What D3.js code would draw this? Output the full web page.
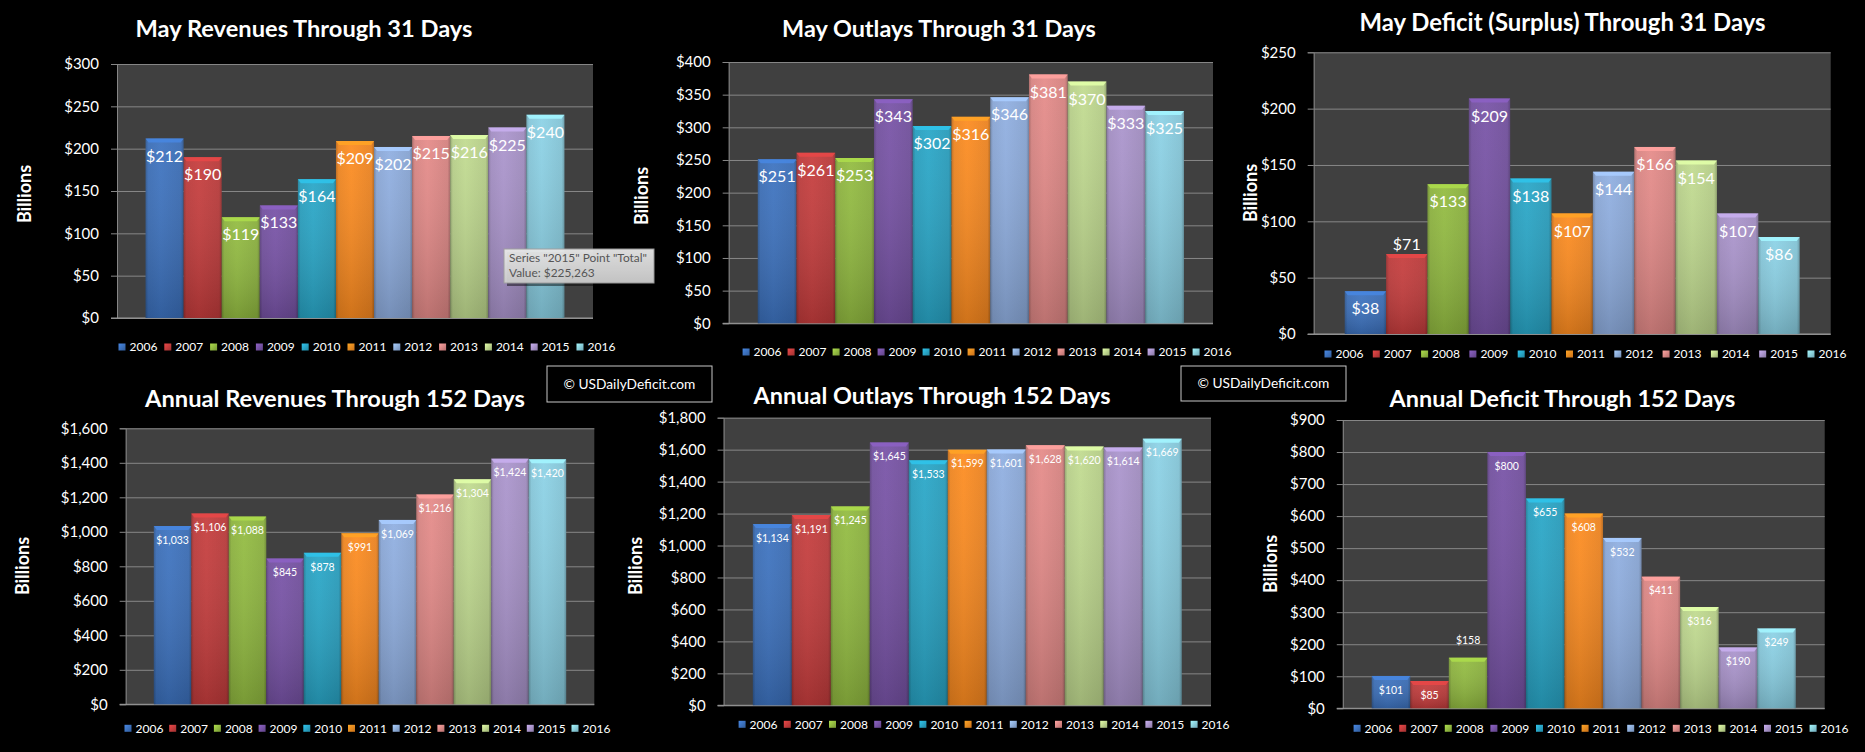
<!DOCTYPE html>
<html><head><meta charset="utf-8">
<script src="https://cdn.jsdelivr.net/npm/d3@7"></script>
<style>
html,body{margin:0;padding:0;background:#000;}
svg{display:block;}
text{font-family:Lato,"Open Sans",sans-serif;}
</style></head><body>
<svg id="chart" width="1865" height="752"></svg>
<script>
// ---------- data ----------
const years = ["2006","2007","2008","2009","2010","2011","2012","2013","2014","2015","2016"];
const seriesColors = ["#3A6EB8","#BE3A3A","#8DB43E","#7350A0","#27A0C0","#F2861F","#8AA8D8","#DB8583","#B9D28A","#A48FC4","#86C9DC"];

const mayRevenues   = [212,190,119,133,164,209,202,215,216,225,240];
const mayOutlays    = [251,261,253,343,302,316,346,381,370,333,325];
const mayDeficit    = [38,71,133,209,138,107,144,166,154,107,86];
const annualRevenues= [1033,1106,1088,845,878,991,1069,1216,1304,1424,1420];
const annualOutlays = [1134,1191,1245,1645,1533,1599,1601,1628,1620,1614,1669];
const annualDeficit = [101,85,158,800,655,608,532,411,316,190,249];

const mayRevenueTicks   = [0,50,100,150,200,250,300];
const mayOutlayTicks    = [0,50,100,150,200,250,300,350,400];
const mayDeficitTicks   = [0,50,100,150,200,250];
const annualRevenueTicks= [0,200,400,600,800,1000,1200,1400,1600];
const annualOutlayTicks = [0,200,400,600,800,1000,1200,1400,1600,1800];
const annualDeficitTicks= [0,100,200,300,400,500,600,700,800,900];

const titles = ["May Revenues Through 31 Days","May Outlays Through 31 Days","May Deficit (Surplus) Through 31 Days",
                "Annual Revenues Through 152 Days","Annual Outlays Through 152 Days","Annual Deficit Through 152 Days"];
const axisTitle = "Billions";
const watermark = "\u00A9 USDailyDeficit.com";
const tooltipLines = ['Series "2015" Point "Total"', 'Value: $225,263'];

// ---------- layout ----------
const panels = [
 {title:titles[0], values:mayRevenues, ticks:mayRevenueTicks, L:117, R:593, T:64, B:318, tx:304, ty:29, tw:337, bx:24.5, by:194, lx:118.5, ly:347, ls:45.8, fs:16, inOff:17.5, outOff:-9, outside:[]},
 {title:titles[1], values:mayOutlays, ticks:mayOutlayTicks, L:728.7, R:1213, T:62, B:323.3, tx:939, ty:29, tw:314, bx:641.7, by:196, lx:742.6, ly:352, ls:45, fs:16, inOff:17.5, outOff:-9, outside:[]},
 {title:titles[2], values:mayDeficit, ticks:mayDeficitTicks, L:1313.7, R:1830.7, T:52.3, B:334, tx:1562.5, ty:22.7, tw:406, bx:1251, by:193, lx:1324.5, ly:354, ls:48.3, fs:16, inOff:17.5, outOff:-9.5, outside:["2007"]},
 {title:titles[3], values:annualRevenues, ticks:annualRevenueTicks, L:125.7, R:594.3, T:428.3, B:704.3, tx:335, ty:398.7, tw:380, bx:23, by:566, lx:124.5, ly:728.3, ls:44.7, fs:10.5, inOff:14, outOff:-17.5, outside:[]},
 {title:titles[4], values:annualOutlays, ticks:annualOutlayTicks, L:723.6, R:1211, T:417.7, B:705.3, tx:932, ty:396, tw:357, bx:636, by:566, lx:738.6, ly:724.3, ls:45.2, fs:10.5, inOff:14, outOff:-17.5, outside:[]},
 {title:titles[5], values:annualDeficit, ticks:annualDeficitTicks, L:1342.8, R:1824.7, T:420, B:708.3, tx:1562.5, ty:398.7, tw:346, bx:1271, by:564, lx:1353.6, ly:728.3, ls:45.6, fs:10.5, inOff:14, outOff:-17.5, outside:["2008"]}
];

const svg = d3.select("#chart");
const defs = svg.append("defs");
const fmt = d3.format("$,");

function fitText(sel, target){
  const w = sel.node().getComputedTextLength();
  const fs = parseFloat(sel.attr("font-size"));
  sel.attr("font-size", (fs*target/w).toFixed(2));
}

// gradients
seriesColors.forEach((c,i)=>{
  const base = d3.color(c);
  const g = defs.append("linearGradient").attr("id","hg"+i).attr("x1",0).attr("x2",1).attr("y1",0).attr("y2",0);
  g.append("stop").attr("offset","0%").attr("stop-color",base.darker(0.7));
  g.append("stop").attr("offset","7%").attr("stop-color",base.darker(0.05));
  g.append("stop").attr("offset","40%").attr("stop-color",base.brighter(0.12));
  g.append("stop").attr("offset","93%").attr("stop-color",base.darker(0.1));
  g.append("stop").attr("offset","100%").attr("stop-color",base.darker(0.8));
  const lg = defs.append("linearGradient").attr("id","lg"+i).attr("x1",0).attr("x2",1).attr("y1",0).attr("y2",1);
  lg.append("stop").attr("offset","0%").attr("stop-color",base.brighter(0.6));
  lg.append("stop").attr("offset","100%").attr("stop-color",base.darker(0.5));
});
const vs = defs.append("linearGradient").attr("id","vshade").attr("x1",0).attr("x2",0).attr("y1",0).attr("y2",1);
vs.append("stop").attr("offset","0%").attr("stop-color","#fff").attr("stop-opacity",0.06);
vs.append("stop").attr("offset","100%").attr("stop-color","#000").attr("stop-opacity",0.18);
const tg = defs.append("linearGradient").attr("id","tipg").attr("x1",0).attr("x2",0).attr("y1",0).attr("y2",1);
tg.append("stop").attr("offset","0%").attr("stop-color","#e9e9e9");
tg.append("stop").attr("offset","100%").attr("stop-color","#cdcdcd");

panels.forEach(p=>{
  const g = svg.append("g");
  const x = d3.scaleBand().domain(years).range([p.L,p.R]).paddingInner(0).paddingOuter(0.75);
  const y = d3.scaleLinear().domain([0, d3.max(p.ticks)]).range([p.B,p.T]);

  g.append("rect").attr("x",p.L).attr("y",p.T).attr("width",p.R-p.L).attr("height",p.B-p.T).attr("fill","#404040");

  // gridlines
  const grid = g.append("g").attr("transform",`translate(${p.L},0)`)
    .call(d3.axisLeft(y).tickValues(p.ticks).tickSizeInner(-(p.R-p.L)).tickSizeOuter(0).tickFormat(""));
  grid.select(".domain").remove();
  grid.selectAll("line").attr("stroke","#868686").attr("stroke-width",1);

  // axis with labels
  const ax = g.append("g").attr("transform",`translate(${p.L},0)`)
    .call(d3.axisLeft(y).tickValues(p.ticks).tickSize(6).tickPadding(12).tickFormat(fmt));
  ax.select(".domain").attr("stroke","#868686");
  ax.selectAll("line").attr("stroke","#868686");
  ax.selectAll("text").attr("fill","#fff").attr("font-size",15).style("font-family","Lato");

  // x axis line
  g.append("line").attr("x1",p.L-6).attr("x2",p.R).attr("y1",p.B).attr("y2",p.B).attr("stroke","#9a9a9a");

  // bars
  const bars = g.append("g").selectAll("g").data(p.values).join("g");
  bars.append("rect")
    .attr("x",(d,i)=>x(years[i])).attr("y",d=>y(d))
    .attr("width",x.bandwidth()).attr("height",d=>p.B-y(d))
    .attr("fill",(d,i)=>`url(#hg${i})`);
  bars.append("rect")
    .attr("x",(d,i)=>x(years[i])).attr("y",d=>y(d))
    .attr("width",x.bandwidth()).attr("height",d=>p.B-y(d))
    .attr("fill","url(#vshade)");
  bars.append("path")
    .attr("d",(d,i)=>{const x0=x(years[i]), x1=x0+x.bandwidth(), t=y(d);
      return `M${x0},${t}L${x1},${t}L${x1-3},${t+4}L${x0+3},${t+4}Z`;})
    .attr("fill",(d,i)=>d3.color(seriesColors[i]).brighter(0.55)).attr("opacity",0.9);

  // data labels
  bars.append("text")
    .attr("x",(d,i)=>x(years[i])+x.bandwidth()/2)
    .attr("y",(d,i)=>y(d)+(p.outside.includes(years[i])?p.outOff:p.inOff))
    .attr("dy","0.35em").attr("text-anchor","middle")
    .attr("fill","#fff").attr("font-size",p.fs)
    .text(d=>fmt(d));

  // title
  const t = g.append("text").attr("x",p.tx).attr("y",p.ty).attr("dy","0.35em").attr("text-anchor","middle")
    .attr("fill","#fff").attr("font-weight","bold").attr("font-size",21).text(p.title);
  fitText(t,p.tw);

  // axis title
  g.append("text").attr("transform",`translate(${p.bx},${p.by}) rotate(-90)`).attr("dy","0.35em")
    .attr("text-anchor","middle").attr("fill","#fff").attr("font-weight","bold").attr("font-size",18).text(axisTitle);

  // legend
  const lg = g.append("g").selectAll("g").data(years).join("g")
    .attr("transform",(d,i)=>`translate(${p.lx+i*p.ls},${p.ly})`);
  lg.append("rect").attr("x",0).attr("y",-3.5).attr("width",7).attr("height",7).attr("fill",(d,i)=>`url(#lg${i})`);
  lg.append("text").attr("x",11).attr("y",0).attr("dy","0.35em").attr("fill","#fff").attr("font-size",12).text(d=>d);
});

// watermark boxes
[[547,366,165,36],[1181,366,165,35]].forEach(b=>{
  svg.append("rect").attr("x",b[0]).attr("y",b[1]).attr("width",b[2]).attr("height",b[3])
    .attr("fill","#000").attr("stroke","#c8c8c8").attr("stroke-width",1);
  const wt = svg.append("text").attr("x",b[0]+b[2]/2).attr("y",b[1]+b[3]/2).attr("dy","0.35em").attr("text-anchor","middle")
    .attr("fill","#fff").attr("font-size",13).text(watermark);
  fitText(wt,132);
});

// tooltip
const tip = svg.append("g");
tip.append("rect").attr("x",507).attr("y",252).attr("width",150).attr("height",34).attr("fill","#000").attr("opacity",0.45);
tip.append("rect").attr("x",504).attr("y",249).attr("width",150).attr("height",34).attr("fill","url(#tipg)").attr("stroke","#a0a0a0").attr("opacity",0.95);
tooltipLines.forEach((s,i)=>{
  const tt = tip.append("text").attr("x",509).attr("y",262+i*15).attr("fill","#555").attr("font-size",12).text(s);
  if(i===0) fitText(tt,138);
  else tt.attr("font-size", tip.select("text").attr("font-size"));
});
</script>
</body></html>
